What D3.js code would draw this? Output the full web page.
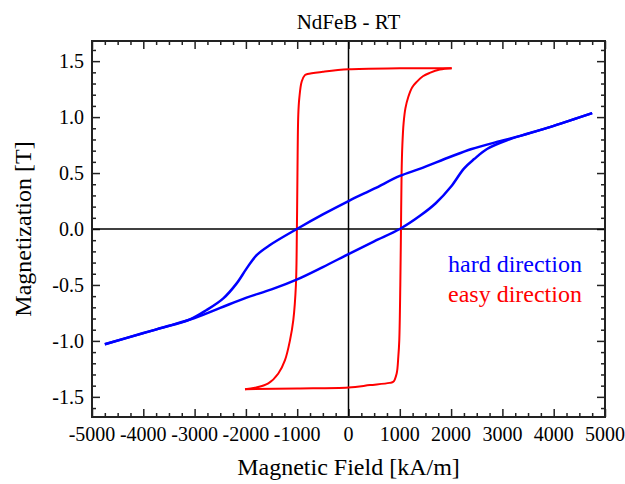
<!DOCTYPE html>
<html>
<head>
<meta charset="utf-8">
<script src="https://cdn.jsdelivr.net/npm/d3@7"></script>
<style>
  body { margin: 0; background: #fff; }
  text { font-family: "Liberation Serif", "Times New Roman", serif; fill: #000; }
</style>
</head>
<body>
<div id="chart"></div>
<script>
// hysteresis loops: [field kA/m, magnetization T]
const hardUp = [
  [-4750, -1.03], [-4000, -0.93], [-3500, -0.865], [-3000, -0.795], [-2500, -0.705],
  [-2000, -0.615], [-1500, -0.54], [-1000, -0.45], [-500, -0.34], [0, -0.224],
  [500, -0.11], [1000, 0.0], [1400, 0.12], [1700, 0.23], [2000, 0.38],
  [2250, 0.54], [2450, 0.625], [2700, 0.715], [3100, 0.795], [3500, 0.853],
  [4000, 0.922], [4750, 1.035]
];
const hardDown = [
  [4750, 1.035], [4000, 0.922], [3350, 0.832], [2950, 0.785], [2400, 0.715],
  [2000, 0.648], [1400, 0.54], [1000, 0.474], [500, 0.36], [0, 0.25],
  [-500, 0.13], [-1006, 0.0], [-1530, -0.143], [-1790, -0.233], [-1985, -0.352],
  [-2180, -0.486], [-2440, -0.62], [-2765, -0.724], [-3100, -0.81], [-3740, -0.897],
  [-4750, -1.03]
];
const easyDown = [
  [2010, 1.437], [1000, 1.436], [0, 1.428], [-500, 1.405], [-800, 1.385],
  [-850, 1.375], [-912, 1.318], [-959, 1.169], [-979, 1.02], [-995, 0.5],
  [-1006, 0.0], [-1025, -0.5], [-1076, -0.814], [-1140, -0.993], [-1238, -1.172],
  [-1368, -1.291], [-1563, -1.38], [-1823, -1.419], [-2018, -1.431]
];
const easyUp = [
  [-2018, -1.431], [-1000, -1.425], [0, -1.416], [419, -1.395], [800, -1.375],
  [873, -1.366], [939, -1.291], [971, -1.142], [990, -0.993], [1010, -0.5],
  [1023, 0.0], [1035, 0.5], [1050, 0.75], [1075, 0.95], [1110, 1.08],
  [1165, 1.18], [1240, 1.265], [1330, 1.315], [1450, 1.365], [1583, 1.395],
  [1780, 1.425], [2012, 1.437]
];
const xTicks = [-5000, -4000, -3000, -2000, -1000, 0, 1000, 2000, 3000, 4000, 5000];
const yTicks = [-1.5, -1.0, -0.5, 0.0, 0.5, 1.0, 1.5];

const width = 625;
const height = 484;
const margin = { top: 41, right: 20, bottom: 67, left: 92 };

const svg = d3.select("#chart")
  .append("svg")
  .attr("width", width)
  .attr("height", height);

const x = d3.scaleLinear().domain([-5000, 5000]).range([margin.left, width - margin.right]);
const y = d3.scaleLinear().domain([-1.68, 1.68]).range([height - margin.bottom, margin.top]);

const fmt = v => d3.format(".1f")(v).replace("\u2212", "-");

// minor ticks every 250 / 0.1
const xMinor = d3.range(-5000, 5001, 250).filter(v => v % 1000 !== 0);
const yMinor = d3.range(-16, 17).map(v => v / 10).filter(v => Math.abs(v * 2 - Math.round(v * 2)) > 1e-6);

function drawAxis(axis, vals, size) {
  return g => g.call(axis.tickValues(vals).tickSize(size).tickFormat(""))
    .call(g => g.select(".domain").remove())
    .selectAll("line").attr("stroke", "#222").attr("stroke-width", 1.5);
}

const pBottom = height - margin.bottom, pTop = margin.top, pLeft = margin.left, pRight = width - margin.right;

svg.append("g").attr("transform", `translate(0,${pBottom})`).call(drawAxis(d3.axisTop(x), xTicks, 8));
svg.append("g").attr("transform", `translate(0,${pBottom})`).call(drawAxis(d3.axisTop(x), xMinor, 4));
svg.append("g").attr("transform", `translate(0,${pTop})`).call(drawAxis(d3.axisBottom(x), xTicks, 8));
svg.append("g").attr("transform", `translate(0,${pTop})`).call(drawAxis(d3.axisBottom(x), xMinor, 4));
svg.append("g").attr("transform", `translate(${pLeft},0)`).call(drawAxis(d3.axisRight(y), yTicks, 8));
svg.append("g").attr("transform", `translate(${pLeft},0)`).call(drawAxis(d3.axisRight(y), yMinor, 4));
svg.append("g").attr("transform", `translate(${pRight},0)`).call(drawAxis(d3.axisLeft(y), yTicks, 8));
svg.append("g").attr("transform", `translate(${pRight},0)`).call(drawAxis(d3.axisLeft(y), yMinor, 4));

// tick labels
svg.append("g").selectAll("text")
  .data(xTicks)
  .enter()
  .append("text")
  .attr("x", d => x(d))
  .attr("y", pBottom + 24)
  .attr("text-anchor", "middle")
  .style("font-size", "20px")
  .text(d => String(d));

svg.append("g").selectAll("text")
  .data(yTicks)
  .enter()
  .append("text")
  .attr("x", pLeft - 8)
  .attr("y", d => y(d) + 7)
  .attr("text-anchor", "end")
  .style("font-size", "20px")
  .text(d => fmt(d));

// zero lines
svg.append("line")
  .attr("x1", x(0)).attr("x2", x(0)).attr("y1", pTop).attr("y2", pBottom)
  .attr("stroke", "#000").attr("stroke-width", 1.5);
svg.append("line")
  .attr("x1", pLeft).attr("x2", pRight).attr("y1", y(0)).attr("y2", y(0))
  .attr("stroke", "#000").attr("stroke-width", 1.5);

const line = d3.line()
  .x(d => x(d[0]))
  .y(d => y(d[1]))
  .curve(d3.curveCatmullRom.alpha(0.5));

[easyDown, easyUp].forEach(s => {
  svg.append("path").attr("d", line(s)).attr("fill", "none")
    .attr("stroke", "#ff0000").attr("stroke-width", 2);
});
[hardUp, hardDown].forEach(s => {
  svg.append("path").attr("d", line(s)).attr("fill", "none")
    .attr("stroke", "#0000ff").attr("stroke-width", 2.5);
});

// frame
svg.append("rect")
  .attr("x", pLeft).attr("y", pTop)
  .attr("width", pRight - pLeft).attr("height", pBottom - pTop)
  .attr("fill", "none").attr("stroke", "#222").attr("stroke-width", 2);

// titles
svg.append("text")
  .attr("x", (pLeft + pRight) / 2).attr("y", 29)
  .attr("text-anchor", "middle")
  .style("font-size", "21px")
  .text("NdFeB - RT");

svg.append("text")
  .attr("x", (pLeft + pRight) / 2).attr("y", 475)
  .attr("text-anchor", "middle")
  .style("font-size", "24px")
  .text("Magnetic Field [kA/m]");

svg.append("text")
  .attr("transform", `translate(31,${(pTop + pBottom) / 2}) rotate(-90)`)
  .attr("text-anchor", "middle")
  .style("font-size", "24px")
  .text("Magnetization [T]");

// legend
svg.append("text")
  .attr("x", 448).attr("y", 272)
  .style("font-size", "24px")
  .style("fill", "#0000ff")
  .text("hard direction");
svg.append("text")
  .attr("x", 448).attr("y", 302)
  .style("font-size", "24px")
  .style("fill", "#ff0000")
  .text("easy direction");
</script>
</body>
</html>
